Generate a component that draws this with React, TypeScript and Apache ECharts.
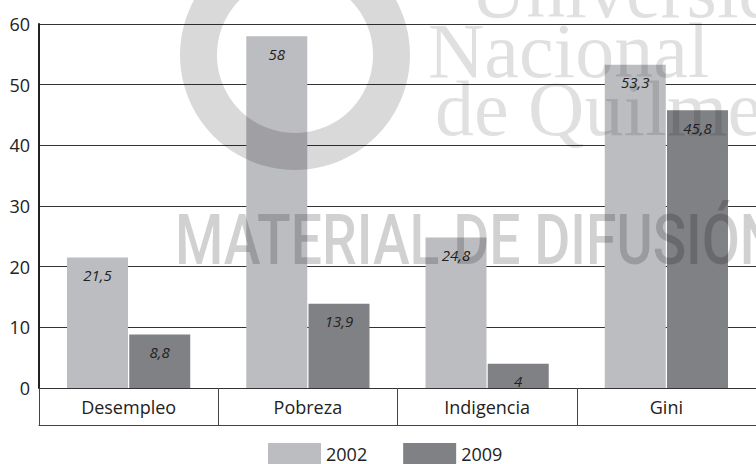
import React, { useEffect, useRef } from "react";
import * as echarts from "echarts";

const categories = ["Desempleo", "Pobreza", "Indigencia", "Gini"];
const values2002 = [21.5, 58, 24.8, 53.3];
const values2009 = [8.8, 13.9, 4, 45.8];
const seriesNames = ["2002", "2009"];
const watermarkLines = ["Universidad", "Nacional", "de Quilmes"];
const watermarkBanner = "MATERIAL DE DIFUSIÓN";

const fmt = (p: any) => String(p.value).replace(".", ",");

export default function App() {
  const ref = useRef<HTMLDivElement>(null);
  useEffect(() => {
    document.body.style.margin = "0";
    const chart = echarts.init(ref.current!, null, { renderer: "svg" });
    const font = "'Open Sans', 'DejaVu Sans', sans-serif";
    const label = {
      show: true,
      position: "insideTop" as const,
      distance: 10,
      formatter: fmt,
      fontFamily: font,
      fontStyle: "italic" as const,
      fontSize: 15,
      color: "#222",
    };
    const serif = "78px 'Liberation Serif', serif";
    const serifFill = "rgba(0,0,0,0.12)";
    chart.setOption({
      animation: false,
      backgroundColor: "#fff",
      textStyle: { fontFamily: font },
      grid: { left: 39, top: 24, right: -7, bottom: 76, containLabel: false },
      legend: {
        data: seriesNames,
        left: 263,
        top: 438,
        itemWidth: 53,
        itemHeight: 21,
        itemGap: 36,
        icon: "rect",
        textStyle: { fontSize: 18, lineHeight: 20, color: "#222", fontFamily: font },
      },
      xAxis: [
        {
          type: "category",
          data: categories,
          axisLine: { show: true, lineStyle: { color: "#333", width: 1 } },
          axisTick: { show: true, length: 37, interval: 0, lineStyle: { color: "#444", width: 1 } },
          axisLabel: { fontSize: 18, color: "#222", margin: 10, fontFamily: font },
          splitLine: { show: false },
        },
        {
          type: "category",
          data: categories,
          position: "bottom",
          offset: 37,
          axisLine: { show: true, lineStyle: { color: "#444", width: 1 } },
          axisTick: { show: false },
          axisLabel: { show: false },
        },
      ],
      yAxis: {
        type: "value",
        min: 0,
        max: 60,
        interval: 10,
        axisLine: { show: true, lineStyle: { color: "#222", width: 2 } },
        axisTick: { show: false },
        axisLabel: { fontSize: 18, color: "#222", margin: 9, fontFamily: font },
        splitLine: { show: true, lineStyle: { color: "#333", width: 1 } },
      },
      series: [
        {
          name: seriesNames[0],
          type: "bar",
          data: values2002,
          barWidth: 61,
          barGap: "2%",
          itemStyle: { color: "#bcbdc1" },
          label,
        },
        {
          name: seriesNames[1],
          type: "bar",
          data: values2009,
          barWidth: 61,
          itemStyle: { color: "#808185" },
          label,
        },
      ],
      graphic: [
        {
          type: "ring",
          z: 100,
          shape: { cx: 295, cy: 55, r: 115, r0: 78 },
          style: { fill: "rgba(0,0,0,0.15)" },
          silent: true,
        },
        {
          type: "text",
          z: 100,
          x: 470,
          y: -38,
          silent: true,
          style: { text: watermarkLines[0], font: serif, lineHeight: 56, fill: serifFill },
        },
        {
          type: "text",
          z: 100,
          x: 428,
          y: 22,
          silent: true,
          style: { text: watermarkLines[1], font: serif, lineHeight: 56, fill: serifFill },
        },
        {
          type: "text",
          z: 100,
          x: 435,
          y: 80,
          silent: true,
          style: { text: watermarkLines[2], font: serif, lineHeight: 56, fill: serifFill },
        },
        {
          type: "text",
          z: 100,
          x: 175,
          y: 205,
          scaleX: 0.79,
          silent: true,
          style: {
            text: watermarkBanner,
            font: "500 70px Roboto, sans-serif",
            fill: "rgba(0,0,0,0.18)",
          },
        },
      ],
    });
    return () => chart.dispose();
  }, []);
  return <div ref={ref} style={{ width: 756, height: 464 }} />;
}
